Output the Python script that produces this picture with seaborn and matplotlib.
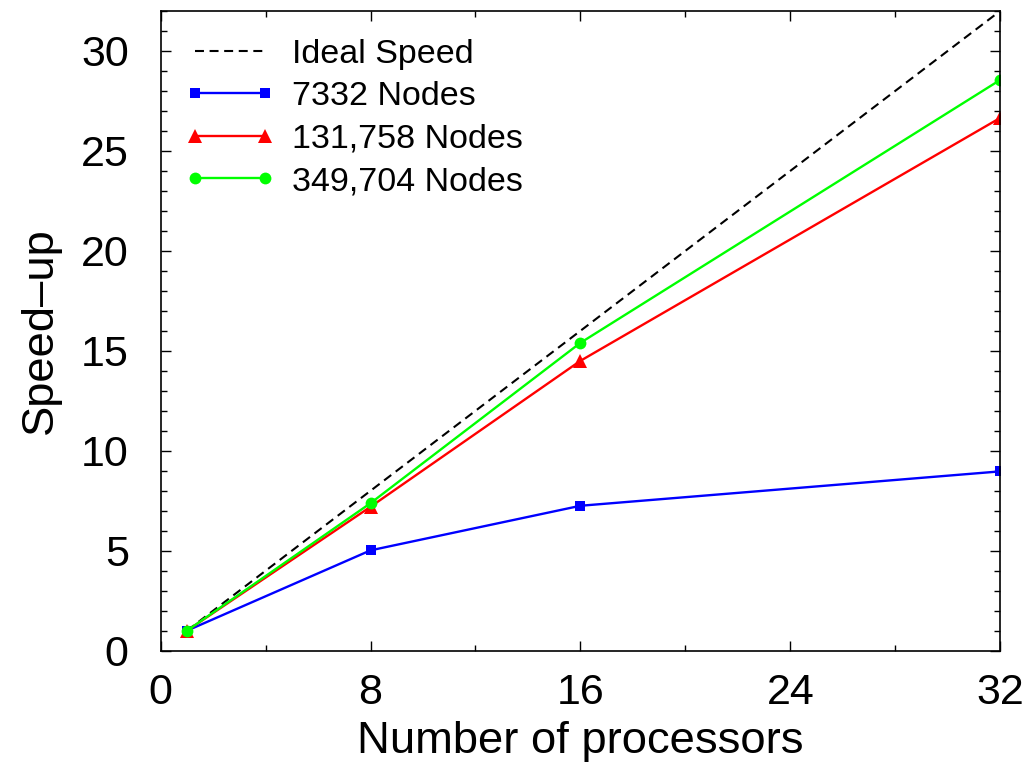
import numpy as np
import pandas as pd
import matplotlib
matplotlib.use("Agg")
import matplotlib.pyplot as plt
import seaborn as sns
from matplotlib.ticker import MultipleLocator

# data
procs = [1, 8, 16, 32]
ideal = [1, 8, 16, 32]
nodes_7332 = [1, 5.02, 7.25, 8.97]
nodes_131758 = [1, 7.2, 14.5, 26.65]
nodes_349704 = [1, 7.38, 15.4, 28.55]

sns.set_style("ticks")
plt.rcParams['font.family'] = ['Liberation Sans', 'DejaVu Sans']
plt.rcParams['text.color'] = 'black'
plt.rcParams['axes.labelcolor'] = 'black'
plt.rcParams['xtick.color'] = 'black'
plt.rcParams['ytick.color'] = 'black'
plt.rcParams['axes.edgecolor'] = 'black'

fig = plt.figure(figsize=(10.3, 7.74), dpi=100)
ax = fig.add_axes([0.156, 0.1593, 0.815, 0.8265])

sns.lineplot(x=procs, y=ideal, ax=ax, color="black", linestyle=(0, (4.3, 2.7)),
             linewidth=1.5, label="Ideal Speed")
sns.lineplot(x=procs, y=nodes_7332, ax=ax, color="#0000ff", marker="s",
             markersize=7.5, markeredgewidth=0, linewidth=1.7, label="7332 Nodes")
sns.lineplot(x=procs, y=nodes_131758, ax=ax, color="#ff0000", marker="^",
             markersize=10, markeredgewidth=0, linewidth=1.7, label="131,758 Nodes")
sns.lineplot(x=procs, y=nodes_349704, ax=ax, color="#00ff00", marker="o",
             markersize=8.5, markeredgewidth=0, linewidth=1.7, label="349,704 Nodes")

ax.set_xlim(0, 32)
ax.set_ylim(0, 32)
ax.xaxis.set_major_locator(MultipleLocator(8))
ax.xaxis.set_minor_locator(MultipleLocator(4))
ax.yaxis.set_major_locator(MultipleLocator(5))
ax.yaxis.set_minor_locator(MultipleLocator(1))
ax.tick_params(which="both", direction="in", top=True, right=True, width=1)
ax.tick_params(which="major", length=7, labelsize=31)
ax.tick_params(axis="y", which="major", pad=23)
ax.tick_params(axis="x", which="major", pad=16)
ax.tick_params(which="minor", length=4)
for s in ax.spines.values():
    s.set_linewidth(1.2)

ax.set_xlabel("Number of processors", fontsize=32.7, labelpad=6)
ax.set_ylabel("Speed\u2013up", fontsize=32.7, labelpad=14)

ax.legend(loc="upper left", frameon=False, fontsize=24.5, numpoints=2,
          handlelength=2.65, handletextpad=0.49, labelspacing=0.34,
          borderaxespad=0, bbox_to_anchor=(0.0128, 0.978))

fig.savefig("out.png", dpi=100)
